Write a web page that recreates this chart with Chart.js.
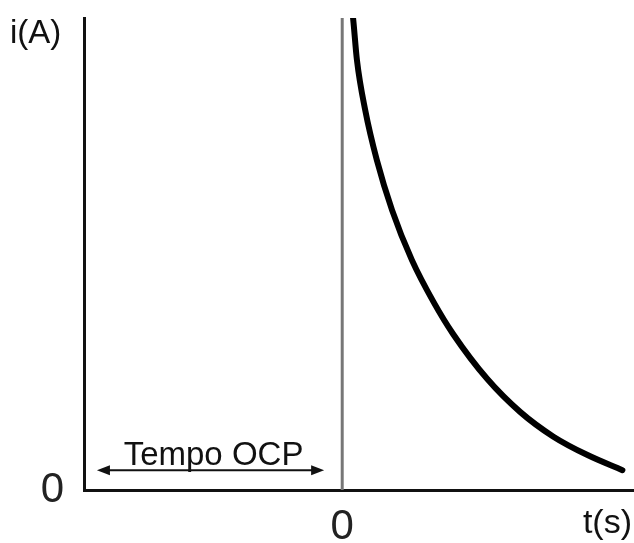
<!DOCTYPE html>
<html>
<head>
<meta charset="utf-8">
<script src="https://cdn.jsdelivr.net/npm/chart.js@4/dist/chart.umd.min.js"></script>
<style>
  html, body { margin: 0; padding: 0; background: #ffffff; }
  #wrap { width: 634px; height: 543px; }
</style>
</head>
<body>
<div id="wrap"><canvas id="c" width="634" height="543"></canvas></div>
<script>
// Data (arbitrary units)
const timeValues    = [4.2, 4.4, 5.7, 8.9, 13.4, 19.3, 27.0, 35.4, 43.0, 56.2, 69.0, 81.8, 95.0, 108.5];
const currentValues = [100, 98.9, 91.1, 80.5, 69.9, 59.3, 48.7, 39.8, 33.0, 23.5, 16.5, 11.3, 7.4, 4.2];
const startLineT    = [0, 0];
const startLineI    = [0, 100];
const xTickLabels   = ['0'];
const yTickLabels   = ['0'];
const xRange        = [-100, 113];
const yRange        = [0, 100];
const ocpSpan       = [-95, -7];   // "Tempo OCP" arrow span on the t axis
const ocpLevel      = 4.2;         // height of the arrow on the i axis
const yAxisTitle    = 'i(A)';
const xAxisTitle    = 't(s)';
const ocpLabel      = 'Tempo OCP';

const FONT = '"Liberation Sans", Arial, sans-serif';

const curve = timeValues.map((t, k) => ({ x: t, y: currentValues[k] }));
const startLine = startLineT.map((t, k) => ({ x: t, y: startLineI[k] }));

const annotations = {
  id: 'annotations',
  afterDraw(chart) {
    const { ctx, scales } = chart;
    const xs = scales.x, ys = scales.y;
    ctx.save();
    ctx.fillStyle = '#111';
    // axis titles
    ctx.font = '33px ' + FONT;
    ctx.textBaseline = 'alphabetic';
    ctx.textAlign = 'left';
    ctx.fillText(yAxisTitle, 10, 43);
    ctx.font = '34px ' + FONT;
    ctx.textAlign = 'right';
    ctx.fillText(xAxisTitle, 632, 533);

    // Tempo OCP arrow
    const x1 = xs.getPixelForValue(ocpSpan[0]);
    const x2 = xs.getPixelForValue(ocpSpan[1]);
    const y = ys.getPixelForValue(ocpLevel);
    ctx.strokeStyle = '#111';
    ctx.lineWidth = 2;
    ctx.beginPath();
    ctx.moveTo(x1 + 6, y);
    ctx.lineTo(x2 - 6, y);
    ctx.stroke();
    const head = (xt, dir) => {
      ctx.beginPath();
      ctx.moveTo(xt, y);
      ctx.lineTo(xt - dir * 13, y - 5);
      ctx.lineTo(xt - dir * 13, y + 5);
      ctx.closePath();
      ctx.fill();
    };
    head(x1, -1);
    head(x2, 1);
    ctx.font = '33px ' + FONT;
    ctx.textAlign = 'center';
    ctx.fillText(ocpLabel, (x1 + x2) / 2 + 3, y - 5);
    ctx.restore();
  }
};

new Chart(document.getElementById('c'), {
  type: 'scatter',
  data: {
    datasets: [
      {
        data: startLine,
        showLine: true,
        borderColor: '#777777',
        borderWidth: 3,
        pointRadius: 0,
        order: 2
      },
      {
        data: curve,
        showLine: true,
        borderColor: '#000000',
        borderWidth: 6,
        pointRadius: 0,
        cubicInterpolationMode: 'monotone',
        borderCapStyle: 'round',
        order: 1
      }
    ]
  },
  options: {
    responsive: false,
    animation: false,
    layout: { padding: { top: 18, right: 0, left: 0, bottom: 0 } },
    plugins: { legend: { display: false }, tooltip: { enabled: false } },
    scales: {
      x: {
        type: 'linear',
        min: xRange[0], max: xRange[1],
        grid: { display: false, drawTicks: false },
        border: { display: true, color: '#111', width: 3 },
        afterBuildTicks: s => { s.ticks = xTickLabels.map(v => ({ value: Number(v) })); },
        ticks: {
          callback: v => String(v),
          font: { family: FONT, size: 42 },
          color: '#222',
          padding: 12,
          maxRotation: 0
        },
        afterFit: s => { s.height = 53; s.paddingLeft = 0; s.paddingRight = 0; }
      },
      y: {
        type: 'linear',
        min: yRange[0], max: yRange[1],
        grid: { display: false, drawTicks: false },
        border: { display: true, color: '#111', width: 3 },
        afterBuildTicks: s => { s.ticks = yTickLabels.map(v => ({ value: Number(v) })); },
        ticks: {
          callback: v => String(v),
          font: { family: FONT, size: 42 },
          color: '#222',
          padding: 20
        },
        afterFit: s => { s.width = 84; s.paddingTop = 0; s.paddingBottom = 0; }
      }
    }
  },
  plugins: [annotations]
});
</script>
</body>
</html>
